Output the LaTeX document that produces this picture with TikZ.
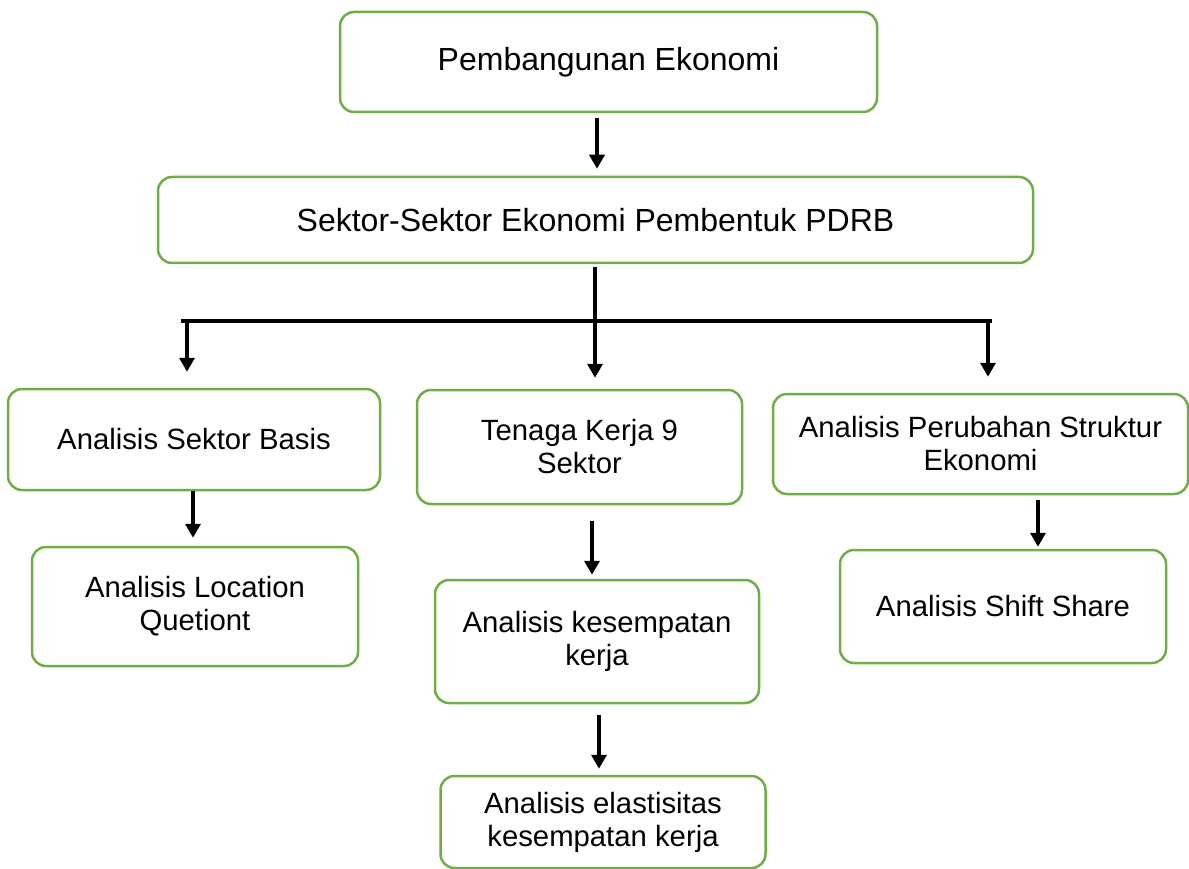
\documentclass[tikz,border=0pt]{standalone}
\usepackage{fontspec}
\setmainfont{Liberation Sans}
\usetikzlibrary{arrows.meta}
\definecolor{hijau}{HTML}{70AD47}
\tikzset{
kotak/.style={draw=hijau,line width=2.5pt,rounded corners=14pt,align=center,inner sep=0pt,font=\fontsize{29.3}{33}\selectfont},
kotakatas/.style={kotak,font=\fontsize{32}{36}\selectfont},
panah/.style={line width=3.5pt,-{Triangle[width=15pt,length=14pt]}},
garis/.style={line width=3.5pt}
}
\begin{document}
\begin{tikzpicture}[x=1pt,y=-1pt]
\useasboundingbox (0,0) rectangle (1189,869);

%kotak atas
\node[kotakatas,minimum width=537,minimum height=100] (PE) at (608.5,62) {Pembangunan Ekonomi};
\node[kotakatas,minimum width=875,minimum height=86] (SP) at (595.5,220) {Sektor-Sektor Ekonomi Pembentuk PDRB};

%tiga cabang
\node[kotak,minimum width=372,minimum height=101] (SB) at (194,439.5) {Analisis Sektor Basis};
\node[kotak,minimum width=325,minimum height=114] (TK) at (579.5,447) {Tenaga Kerja 9\\Sektor};
\node[kotak,minimum width=415,minimum height=100] (PS) at (980.5,444) {Analisis Perubahan Struktur\\Ekonomi};

%kotak bawah
\node[kotak,minimum width=326,minimum height=119] (LQ) at (195,606.5) {Analisis Location\\Quetiont};
\node[kotak,minimum width=324,minimum height=123] (KK) at (597,641.5) {Analisis kesempatan\\kerja};
\node[kotak,minimum width=326,minimum height=113] (SS) at (1003,606.5) {Analisis Shift Share};
\node[kotak,minimum width=325,minimum height=92] (EK) at (603,822) {Analisis elastisitas\\kesempatan kerja};

\coordinate (cabKiri) at (181,321);
\coordinate (cabKanan) at (992,321);
\coordinate (tKiri) at (187,321);
\coordinate (tKanan) at (988,321);

\draw[panah,shorten <=5pt,shorten >=7pt] (PE.south -| 597,0) -- (SP.north -| 597,0);
\draw[panah,shorten <=3pt,shorten >=11pt] (SP.south -| 595,0) -- (TK.north -| 595,0);
\draw[garis] (cabKiri) -- (cabKanan);
\draw[panah,shorten >=16pt] (tKiri) -- (SB.north -| tKiri);
\draw[panah,shorten >=16pt] (tKanan) -- (PS.north -| tKanan);

\draw[panah,shorten >=8pt] (SB.south -| 193,0) -- (LQ.north -| 193,0);
\draw[panah,shorten <=16pt,shorten >=4pt] (TK.south -| 592,0) -- (KK.north -| 592,0);
\draw[panah,shorten <=11pt,shorten >=6pt] (KK.south -| 599,0) -- (EK.north -| 599,0);
\draw[panah,shorten <=5pt,shorten >=2pt] (PS.south -| 1038,0) -- (SS.north -| 1038,0);

\end{tikzpicture}
\end{document}
